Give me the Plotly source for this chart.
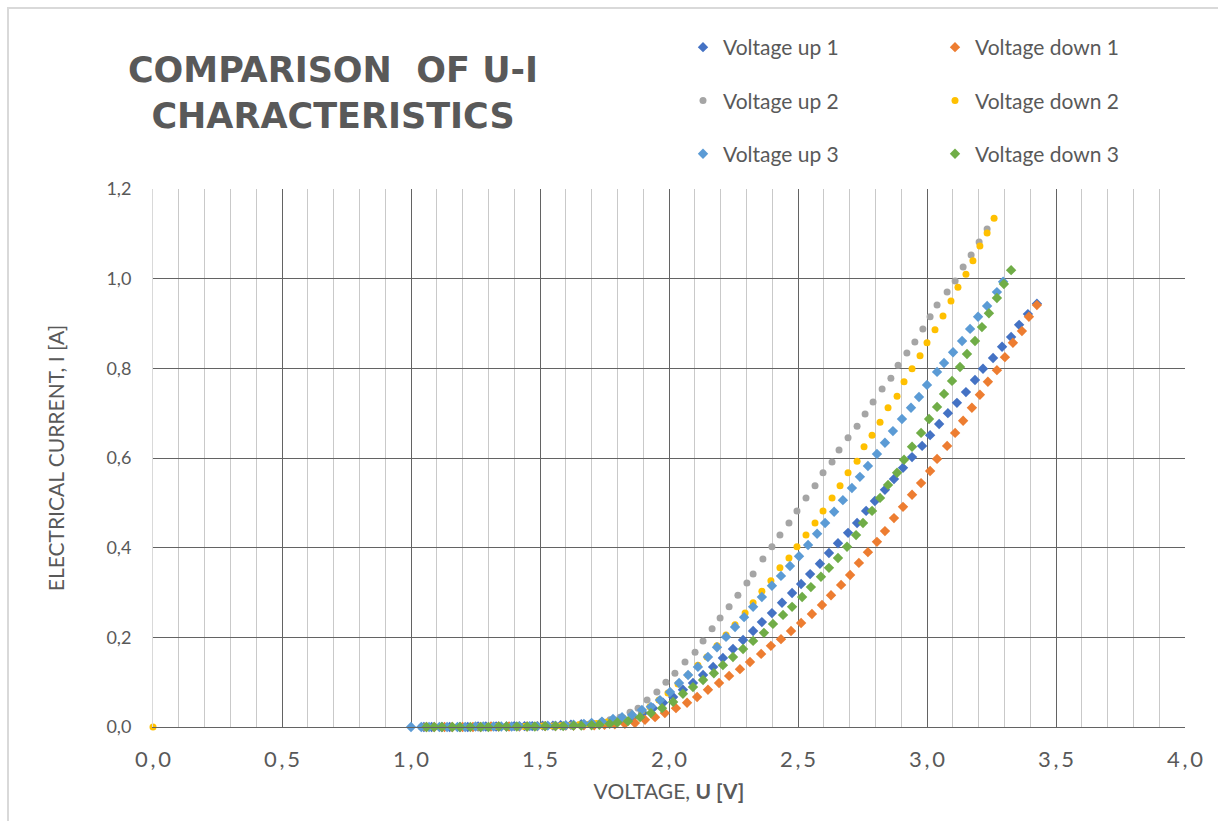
import plotly.graph_objects as go

# ---------------- data ----------------
up1_v = [1.05, 1.08, 1.12, 1.15, 1.19, 1.22, 1.26, 1.29, 1.33, 1.37, 1.40, 1.44, 1.47, 1.51, 1.55, 1.58, 1.62, 1.66, 1.70, 1.74, 1.78,
         1.822, 1.860, 1.899, 1.938, 1.977, 2.016, 2.054, 2.093, 2.132, 2.171, 2.209, 2.248, 2.287, 2.326, 2.360,
         2.399, 2.438, 2.477, 2.512, 2.547, 2.585, 2.620, 2.655, 2.694, 2.729, 2.764, 2.798, 2.837, 2.872, 2.907,
         2.942, 2.981, 3.012, 3.047, 3.081, 3.116, 3.151, 3.186, 3.217, 3.256, 3.291, 3.326, 3.357, 3.391, 3.426]
up1_i = [0, 0, 0, 0, 0, 0, 0.001, 0.001, 0.001, 0.001, 0.002, 0.002, 0.002, 0.003, 0.003, 0.004, 0.005, 0.006, 0.008, 0.010, 0.013,
         0.018, 0.022, 0.031, 0.042, 0.054, 0.067, 0.083, 0.098, 0.116, 0.134, 0.154, 0.174, 0.194, 0.214, 0.234,
         0.254, 0.277, 0.299, 0.319, 0.341, 0.364, 0.388, 0.410, 0.433, 0.455, 0.482, 0.504, 0.529, 0.553, 0.578,
         0.602, 0.627, 0.651, 0.676, 0.700, 0.723, 0.747, 0.774, 0.799, 0.823, 0.848, 0.870, 0.897, 0.921, 0.944]

down1_v = [1.06, 1.09, 1.13, 1.16, 1.20, 1.24, 1.27, 1.31, 1.34, 1.38, 1.42, 1.45, 1.49, 1.52, 1.56, 1.60, 1.63, 1.67, 1.71, 1.75, 1.79,
           1.829, 1.868, 1.907, 1.946, 1.984, 2.027, 2.070, 2.109, 2.151, 2.194, 2.233, 2.275, 2.314, 2.357, 2.395,
           2.434, 2.473, 2.512, 2.554, 2.593, 2.628, 2.667, 2.702, 2.736, 2.771, 2.806, 2.837, 2.872, 2.907, 2.942,
           2.977, 3.012, 3.039, 3.078, 3.109, 3.140, 3.174, 3.205, 3.236, 3.271, 3.302, 3.333, 3.368, 3.395, 3.426]
down1_i = [0, 0, 0, 0, 0, 0, 0, 0.001, 0.001, 0.001, 0.001, 0.001, 0.002, 0.002, 0.002, 0.003, 0.003, 0.004, 0.004, 0.005, 0.006,
           0.007, 0.009, 0.016, 0.022, 0.031, 0.042, 0.054, 0.067, 0.083, 0.098, 0.114, 0.129, 0.145, 0.163, 0.181,
           0.196, 0.214, 0.232, 0.252, 0.272, 0.294, 0.317, 0.339, 0.366, 0.390, 0.413, 0.437, 0.466, 0.491, 0.518,
           0.544, 0.571, 0.598, 0.627, 0.656, 0.683, 0.712, 0.741, 0.770, 0.796, 0.825, 0.857, 0.883, 0.915, 0.941]

up2_v = [1.04, 1.07, 1.11, 1.14, 1.18, 1.21, 1.25, 1.28, 1.32, 1.35, 1.39, 1.42, 1.46, 1.49, 1.53, 1.56, 1.60, 1.63, 1.67, 1.70, 1.74,
         1.771, 1.810, 1.849, 1.880, 1.915, 1.953, 1.988, 2.023, 2.062, 2.101, 2.132, 2.167, 2.198, 2.233, 2.267,
         2.302, 2.326, 2.364, 2.399, 2.430, 2.465, 2.496, 2.531, 2.566, 2.597, 2.632, 2.659, 2.694, 2.729, 2.760,
         2.791, 2.826, 2.860, 2.888, 2.922, 2.953, 2.984, 3.012, 3.039, 3.078, 3.109, 3.140, 3.171, 3.202, 3.233]
up2_i = [0, 0, 0, 0, 0, 0, 0.001, 0.001, 0.001, 0.001, 0.001, 0.002, 0.002, 0.002, 0.003, 0.003, 0.004, 0.005, 0.007, 0.009, 0.012,
         0.016, 0.022, 0.033, 0.042, 0.060, 0.078, 0.100, 0.120, 0.145, 0.167, 0.192, 0.219, 0.243, 0.268, 0.294,
         0.321, 0.341, 0.375, 0.402, 0.428, 0.455, 0.482, 0.511, 0.538, 0.567, 0.591, 0.618, 0.645, 0.671, 0.698,
         0.725, 0.754, 0.778, 0.807, 0.834, 0.859, 0.888, 0.915, 0.941, 0.970, 0.995, 1.026, 1.053, 1.082, 1.111]

down2_v = [0.0, 1.05, 1.09, 1.12, 1.16, 1.19, 1.23, 1.26, 1.30, 1.33, 1.37, 1.41, 1.44, 1.48, 1.51, 1.55, 1.58, 1.62, 1.65, 1.69, 1.72, 1.76, 1.79,
           1.822, 1.857, 1.895, 1.926, 1.961, 1.996, 2.035, 2.074, 2.112, 2.147, 2.186, 2.221, 2.256, 2.295, 2.326,
           2.360, 2.395, 2.430, 2.465, 2.496, 2.531, 2.566, 2.597, 2.632, 2.663, 2.694, 2.729, 2.756, 2.787, 2.818,
           2.849, 2.884, 2.911, 2.942, 2.973, 3.000, 3.031, 3.062, 3.093, 3.120, 3.151, 3.178, 3.205, 3.233, 3.260]
down2_i = [0, 0, 0, 0, 0, 0, 0, 0, 0.001, 0.001, 0.001, 0.001, 0.001, 0.002, 0.002, 0.002, 0.003, 0.004, 0.005, 0.006, 0.008, 0.011, 0.015,
           0.020, 0.027, 0.036, 0.045, 0.060, 0.076, 0.096, 0.116, 0.138, 0.156, 0.181, 0.205, 0.228, 0.254, 0.277,
           0.303, 0.326, 0.355, 0.377, 0.402, 0.428, 0.455, 0.482, 0.511, 0.538, 0.567, 0.593, 0.625, 0.651, 0.680,
           0.712, 0.738, 0.770, 0.799, 0.828, 0.857, 0.886, 0.917, 0.950, 0.981, 1.010, 1.040, 1.073, 1.102, 1.135]

up3_v = [1.00, 1.04, 1.07, 1.11, 1.14, 1.18, 1.21, 1.25, 1.28, 1.32, 1.35, 1.39, 1.42, 1.46, 1.49, 1.53, 1.56, 1.60, 1.63, 1.67, 1.70, 1.74,
         1.783, 1.818, 1.857, 1.895, 1.930, 1.965, 2.004, 2.039, 2.074, 2.112, 2.151, 2.186, 2.221, 2.256, 2.291,
         2.326, 2.360, 2.399, 2.434, 2.469, 2.504, 2.539, 2.574, 2.605, 2.640, 2.674, 2.709, 2.740, 2.771, 2.806,
         2.837, 2.868, 2.903, 2.938, 2.969, 3.000, 3.039, 3.066, 3.101, 3.136, 3.167, 3.198, 3.233, 3.271, 3.295]
up3_i = [0, 0, 0, 0, 0, 0, 0, 0.001, 0.001, 0.001, 0.001, 0.001, 0.002, 0.002, 0.002, 0.003, 0.003, 0.004, 0.005, 0.007, 0.009, 0.012,
         0.018, 0.022, 0.027, 0.038, 0.045, 0.060, 0.078, 0.098, 0.116, 0.134, 0.156, 0.178, 0.201, 0.223, 0.245,
         0.268, 0.290, 0.315, 0.337, 0.359, 0.381, 0.406, 0.431, 0.455, 0.480, 0.506, 0.533, 0.558, 0.582, 0.609,
         0.634, 0.660, 0.687, 0.712, 0.736, 0.763, 0.792, 0.812, 0.836, 0.861, 0.888, 0.915, 0.939, 0.970, 0.993]

down3_v = [1.06, 1.09, 1.12, 1.16, 1.19, 1.23, 1.27, 1.30, 1.34, 1.37, 1.41, 1.45, 1.48, 1.52, 1.56, 1.59, 1.63, 1.66, 1.70, 1.73, 1.77, 1.80,
           1.841, 1.888, 1.930, 1.973, 2.016, 2.054, 2.093, 2.132, 2.174, 2.209, 2.248, 2.287, 2.326, 2.368, 2.403,
           2.442, 2.477, 2.516, 2.550, 2.589, 2.620, 2.655, 2.690, 2.725, 2.752, 2.787, 2.818, 2.849, 2.884, 2.911,
           2.942, 2.977, 3.008, 3.039, 3.066, 3.097, 3.128, 3.155, 3.186, 3.213, 3.240, 3.271, 3.298, 3.326]
down3_i = [0, 0, 0, 0, 0, 0, 0, 0, 0.001, 0.001, 0.001, 0.001, 0.001, 0.002, 0.002, 0.002, 0.003, 0.003, 0.004, 0.005, 0.007, 0.010,
           0.013, 0.022, 0.031, 0.042, 0.056, 0.074, 0.089, 0.105, 0.120, 0.138, 0.156, 0.174, 0.192, 0.210, 0.230,
           0.250, 0.268, 0.290, 0.312, 0.335, 0.355, 0.377, 0.402, 0.428, 0.455, 0.482, 0.511, 0.540, 0.567, 0.596,
           0.625, 0.656, 0.687, 0.714, 0.743, 0.772, 0.803, 0.832, 0.861, 0.892, 0.923, 0.957, 0.988, 1.019]

x_ticks = [0.0, 0.5, 1.0, 1.5, 2.0, 2.5, 3.0, 3.5, 4.0]
x_tick_labels = ["0\u2009,\u20090", "0\u2009,\u20095", "1\u2009,\u20090", "1\u2009,\u20095", "2\u2009,\u20090",
                 "2\u2009,\u20095", "3\u2009,\u20090", "3\u2009,\u20095", "4\u2009,\u20090"]
y_ticks = [0.0, 0.2, 0.4, 0.6, 0.8, 1.0, 1.2]
y_tick_labels = ["0,0", "0,2", "0,4", "0,6", "0,8", "1,0", "1,2"]

# ---------------- styling ----------------
FONT = "Lato"
TXT = "#595959"
series = [
    ("Voltage up 1", up1_v, up1_i, "#4472C4", "diamond", 8, "legend"),
    ("Voltage down 1", down1_v, down1_i, "#ED7D31", "diamond", 8, "legend2"),
    ("Voltage up 2", up2_v, up2_i, "#A5A5A5", "circle", 7, "legend"),
    ("Voltage down 2", down2_v, down2_i, "#FFC000", "circle", 7, "legend2"),
    ("Voltage up 3", up3_v, up3_i, "#5B9BD5", "diamond", 8, "legend"),
    ("Voltage down 3", down3_v, down3_i, "#70AD47", "diamond", 8, "legend2"),
]

fig = go.Figure()
for name, xv, yv, col, sym, sz, leg in series:
    fig.add_trace(go.Scatter(
        x=xv, y=yv, mode="markers", name=name, legend=leg, legendgroup=name,
        marker=dict(color=col, symbol=sym, size=sz, line=dict(width=0)),
        cliponaxis=False,
    ))

W, H = 1218, 821
L, R, T, B = 153, 33, 189, 94
pw, ph = W - L - R, H - T - B

legend_common = dict(
    xref="container", yref="container", yanchor="top", xanchor="left",
    font=dict(family=FONT, size=21, color=TXT), bgcolor="rgba(0,0,0,0)",
    tracegroupgap=23, itemsizing="trace",
)

fig.update_layout(
    width=W, height=H,
    margin=dict(l=L, r=R, t=T, b=B, autoexpand=False),
    paper_bgcolor="white", plot_bgcolor="white",
    font=dict(family=FONT, color=TXT),
    title=dict(
        text="<b>COMPARISON  OF U-I<br>CHARACTERISTICS</b>",
        xref="container", yref="container", x=333 / W, xanchor="center",
        y=1 - 82 / H, yanchor="top",
        font=dict(family="DejaVu Sans", size=35, color=TXT),
    ),
    legend=dict(x=683 / W, y=1 - 27 / H, **legend_common),
    legend2=dict(x=935 / W, y=1 - 27 / H, **legend_common),
    xaxis=dict(
        range=[0, 4], tickvals=x_ticks, ticktext=x_tick_labels,
        tickfont=dict(family=FONT, size=22, color=TXT),
        showgrid=True, gridcolor="#636363", gridwidth=1,
        minor=dict(dtick=0.1, tick0=0, showgrid=True, gridcolor="#c9c9c9", gridwidth=1),
        zeroline=False, showline=True, linecolor="#636363", linewidth=1,
        ticks="", ticklabelstandoff=13,
        title=dict(text="VOLTAGE, <b>U [V]</b>", font=dict(family=FONT, size=21, color=TXT), standoff=12),
    ),
    yaxis=dict(
        range=[0, 1.2], tickvals=y_ticks, ticktext=y_tick_labels,
        tickfont=dict(family=FONT, size=18, color=TXT),
        showgrid=True, gridcolor="#636363", gridwidth=1,
        zeroline=False, showline=True, linecolor="#d9d9d9", linewidth=1,
        ticks="", ticklabelstandoff=17,
        title=dict(text="ELECTRICAL CURRENT, I [A]", font=dict(family=FONT, size=21, color=TXT), standoff=36),
    ),
    shapes=[dict(
        type="rect", xref="paper", yref="paper",
        x0=(8 - L) / pw, x1=(W + 20 - L) / pw,
        y0=-(B + 20) / ph, y1=(H - B - 8) / ph,
        line=dict(color="#d9d9d9", width=2), fillcolor="rgba(0,0,0,0)", layer="below",
    )],
)

fig.write_html("out.html", config={"displayModeBar": False},
               post_script="document.body.style.margin='0px';")
